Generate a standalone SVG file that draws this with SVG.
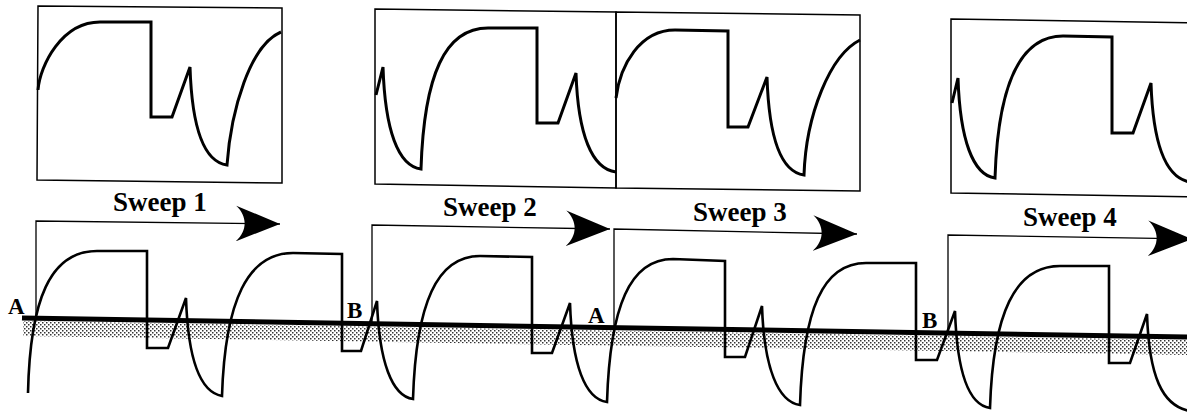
<svg xmlns="http://www.w3.org/2000/svg" width="1187" height="413" viewBox="0 0 1187 413">
  <style>
    .frame { fill: none; stroke: #000; stroke-width: 1.5; }
    .wave { fill: none; stroke: #000; stroke-width: 3; stroke-linejoin: miter; }
    .lowwave { fill: none; stroke: #000; stroke-width: 2.6; stroke-linejoin: miter; }
    .bracket { fill: none; stroke: #000; stroke-width: 1.3; }
    .sweep { font-family: "Liberation Serif", "Times New Roman", serif; font-weight: bold; font-size: 27px; fill: #000; }
    .pt { font-family: "Liberation Serif", "Times New Roman", serif; font-weight: bold; font-size: 23px; fill: #000; }
  </style>
  <defs>
    <pattern id="stipple" width="4" height="4" patternUnits="userSpaceOnUse">
      <rect x="0" y="0" width="1.5" height="1.5" fill="#333"/>
      <rect x="2" y="2" width="1.5" height="1.5" fill="#333"/>
    </pattern>
    <marker id="head" markerUnits="userSpaceOnUse" markerWidth="44" markerHeight="36" viewBox="0 0 42 34" refX="42" refY="17" orient="auto">
      <path d="M42,17 L0,0 C11,10 11,24 0,34 Z" fill="#000"/>
    </marker>
  </defs>
  <rect width="1187" height="413" fill="#fff"/>

  <!-- Top display panels -->
  <g id="panel1">
    <path class="frame" d="M38,6 L282,8 L282,183 L37,180 Z"/>
    <path class="wave" d="M38,90 C40,65 62,22 100,22 L151,22 L151,117 L172,117 L190,67 C192,130 205,162 227,165 C231,110 250,45 281,32"/>
  </g>
  <g id="panel2">
    <path class="frame" d="M375,9 L616,12 L616,188 L375,184 Z"/>
    <path class="wave" d="M376,95 L383,67 C385,130 398,166 421,169 C424,75 445,28 488,28 L537,28 L537,123 L558,123 L576,73 C578,135 592,169 616,172"/>
  </g>
  <g id="panel3">
    <path class="frame" d="M616,12 L860,15 L860,191 L616,188 Z"/>
    <path class="wave" d="M616,98 C620,65 640,30 675,30 L728,31 L728,127 L748,127 L767,77 C769,140 782,172 804,175 C806,115 830,55 860,40"/>
  </g>
  <g id="panel4">
    <path class="frame" d="M951,19 L1200,23 L1200,197 L951,193 Z"/>
    <path class="wave" d="M952,103 L958,78 C960,140 973,175 995,178 C998,85 1020,36 1063,36 L1112,37 L1112,133 L1133,133 L1151,83 C1153,145 1166,178 1190,182"/>
  </g>

  <!-- Reference level with stippled band -->
  <g id="baseline">
    <polygon points="23,321 1187,340 1187,355 23,336" fill="url(#stipple)"/>
    <line x1="22" y1="318" x2="1187" y2="337" stroke="#000" stroke-width="5"/>
  </g>

  <!-- Continuous signal -->
  <g id="signal">
    <path class="lowwave" d="M28,393 C30,300 50,251 97,251 L147,251 L147,348 L168,348 L186,298 C188,360 200,392 222,396 C225,300 248,253 293,253 L342,254 L342,351 L361,351 L377,301 C379,362 392,396 413,399 C416,303 437,256 480,256 L532,257 L532,353 L552,353 L570,303 C572,365 585,399 607,402 C610,306 630,259 673,259 L725,261 L725,357 L745,357 L762,306 C764,368 778,402 800,405 C803,309 823,263 866,263 L916,263 L916,360 L937,360 L955,311 C957,372 969,405 990,408 C993,313 1015,266 1060,266 L1109,266 L1109,363 L1130,363 L1147,314 C1149,376 1162,406 1190,411"/>
  </g>

  <!-- Sweep brackets -->
  <g id="connectors">
    <path class="bracket" d="M36,318 L36,221 L280,224" marker-end="url(#head)"/>
    <path class="bracket" d="M372,324 L372,225 L610,229" marker-end="url(#head)"/>
    <path class="bracket" d="M614,328 L614,229 L857,234" marker-end="url(#head)"/>
    <path class="bracket" d="M948,333 L948,235 L1192,239" marker-end="url(#head)"/>
  </g>

  <g id="labels">
    <text class="sweep" x="113" y="211">Sweep 1</text>
    <text class="sweep" x="443" y="216">Sweep 2</text>
    <text class="sweep" x="693" y="221">Sweep 3</text>
    <text class="sweep" x="1023" y="226">Sweep 4</text>
    <text class="pt" x="8" y="314">A</text>
    <text class="pt" x="347" y="318">B</text>
    <text class="pt" x="588" y="323">A</text>
    <text class="pt" x="922" y="328">B</text>
  </g>
</svg>
